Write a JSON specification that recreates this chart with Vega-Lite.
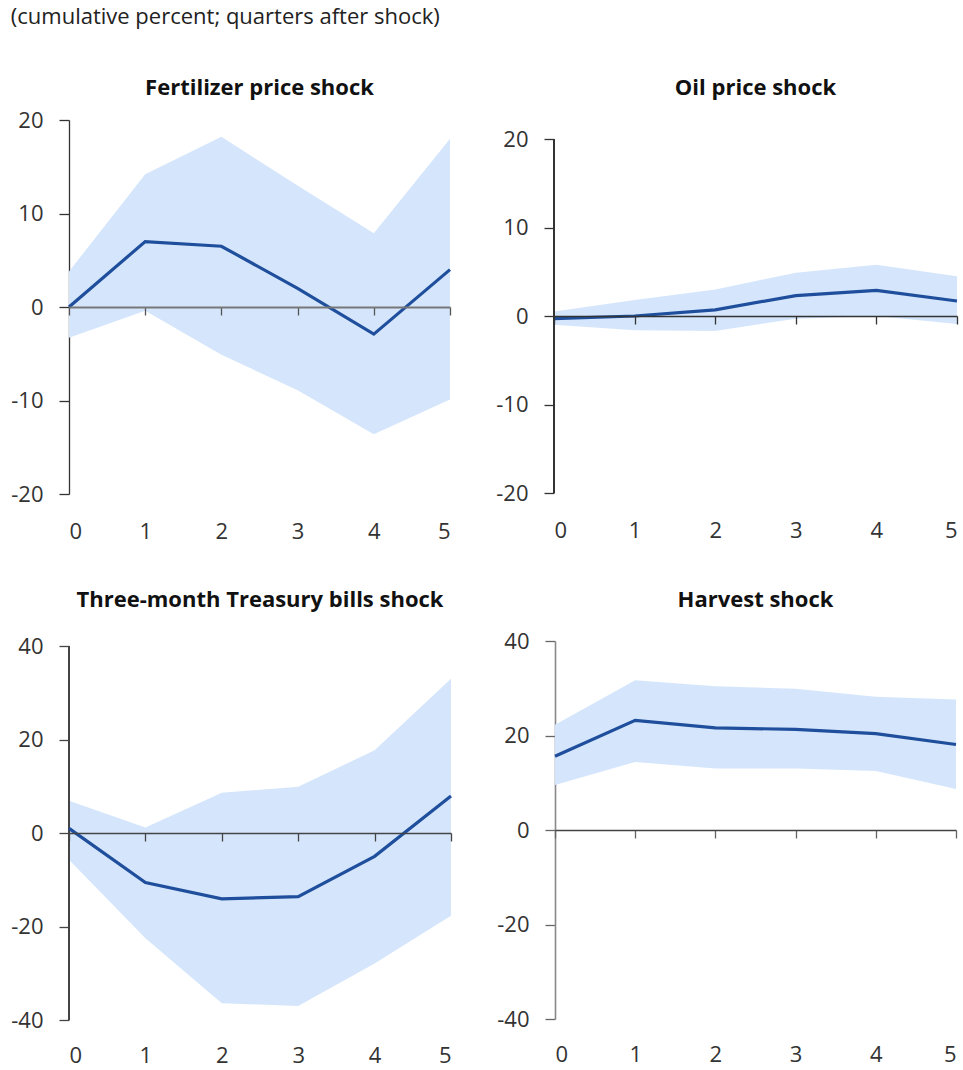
{
  "$schema": "https://vega.github.io/schema/vega-lite/v6.json",
  "background": "white",
  "padding": {"left": 10, "top": 6, "right": 0, "bottom": 0},
  "title": {"text": "(cumulative percent; quarters after shock)", "anchor": "start", "fontSize": 22, "fontWeight": "normal", "font": "Open Sans", "color": "#222222", "offset": 48},
  "config": {
    "view": {"stroke": null},
    "font": "Open Sans",
    "title": {"fontSize": 22, "fontWeight": "bold", "color": "#111111", "font": "Open Sans"},
    "axis": {"labelFont": "Open Sans", "labelFontSize": 22, "labelColor": "#333333", "grid": false, "title": null, "labelExpr": "datum.value < 0 ? '-' + abs(datum.value) : '' + datum.value"}
  },
  "datasets": {
    "d": [
      {"panel": "Fertilizer", "q": 0, "mid": 0.0, "lo": -3.3, "hi": 3.8},
      {"panel": "Fertilizer", "q": 1, "mid": 7.0, "lo": -0.4, "hi": 14.2},
      {"panel": "Fertilizer", "q": 2, "mid": 6.5, "lo": -5.1, "hi": 18.2},
      {"panel": "Fertilizer", "q": 3, "mid": 2.0, "lo": -8.9, "hi": 13.0},
      {"panel": "Fertilizer", "q": 4, "mid": -2.9, "lo": -13.6, "hi": 7.9},
      {"panel": "Fertilizer", "q": 5, "mid": 4.0, "lo": -9.9, "hi": 18.0},
      {"panel": "Oil", "q": 0, "mid": -0.3, "lo": -1.0, "hi": 0.5},
      {"panel": "Oil", "q": 1, "mid": 0.0, "lo": -1.6, "hi": 1.8},
      {"panel": "Oil", "q": 2, "mid": 0.7, "lo": -1.7, "hi": 3.0},
      {"panel": "Oil", "q": 3, "mid": 2.3, "lo": -0.3, "hi": 4.9},
      {"panel": "Oil", "q": 4, "mid": 2.9, "lo": 0.0, "hi": 5.8},
      {"panel": "Oil", "q": 5, "mid": 1.7, "lo": -0.9, "hi": 4.5},
      {"panel": "Treasury", "q": 0, "mid": 1.0, "lo": -5.7, "hi": 6.9},
      {"panel": "Treasury", "q": 1, "mid": -10.6, "lo": -22.5, "hi": 1.2},
      {"panel": "Treasury", "q": 2, "mid": -14.1, "lo": -36.4, "hi": 8.6},
      {"panel": "Treasury", "q": 3, "mid": -13.6, "lo": -37.0, "hi": 9.9},
      {"panel": "Treasury", "q": 4, "mid": -5.0, "lo": -27.9, "hi": 17.7},
      {"panel": "Treasury", "q": 5, "mid": 7.9, "lo": -17.7, "hi": 33.0},
      {"panel": "Harvest", "q": 0, "mid": 15.6, "lo": 9.5, "hi": 22.3},
      {"panel": "Harvest", "q": 1, "mid": 23.2, "lo": 14.4, "hi": 31.7},
      {"panel": "Harvest", "q": 2, "mid": 21.6, "lo": 13.0, "hi": 30.4},
      {"panel": "Harvest", "q": 3, "mid": 21.3, "lo": 13.0, "hi": 29.9},
      {"panel": "Harvest", "q": 4, "mid": 20.4, "lo": 12.5, "hi": 28.2},
      {"panel": "Harvest", "q": 5, "mid": 18.1, "lo": 8.7, "hi": 27.6}
    ]
  },
  "spacing": 47,
  "vconcat": [
    {
      "spacing": 38,
      "hconcat": [
        {
          "width": 381, "height": 374,
          "title": {"text": "Fertilizer price shock", "offset": 9},
          "data": {"name": "d"},
          "transform": [{"filter": "datum.panel == 'Fertilizer'"}],
          "encoding": {"x": {"field": "q", "type": "quantitative", "scale": {"domain": [0, 5], "nice": false}, "axis": {"values": [0,1,2,3,4,5], "offset": -187, "domainColor": "#777777", "domainWidth": 2, "tickColor": "#555555", "tickSize": 8, "tickWidth": 1.3, "labelPadding": 206, "zindex": 1}}},
          "layer": [
            {"mark": {"type": "area", "color": "#d5e6fc", "opacity": 1}, "encoding": {"y": {"field": "lo", "type": "quantitative", "scale": {"domain": [-20, 20], "nice": false}, "axis": {"values": [-20,-10,0,10,20], "domainColor": "#333333", "domainWidth": 1.3, "tickColor": "#333333", "tickSize": 10, "tickWidth": 1.3, "labelPadding": 16}}, "y2": {"field": "hi"}}},
            {"mark": {"type": "line", "color": "#1f4f9c", "strokeWidth": 3.2}, "encoding": {"y": {"field": "mid", "type": "quantitative"}}}
          ]
        },
        {
          "width": 403, "height": 373,
          "title": {"text": "Oil price shock", "offset": 20},
          "data": {"name": "d"},
          "transform": [{"filter": "datum.panel == 'Oil'"}],
          "encoding": {"x": {"field": "q", "type": "quantitative", "scale": {"domain": [0, 5], "nice": false}, "axis": {"values": [0,1,2,3,4,5], "offset": -177, "domainColor": "#333333", "domainWidth": 1.3, "tickColor": "#333333", "tickSize": 8, "tickWidth": 1.3, "labelPadding": 196, "zindex": 1}}},
          "layer": [
            {"mark": {"type": "area", "color": "#d5e6fc", "opacity": 1}, "encoding": {"y": {"field": "lo", "type": "quantitative", "scale": {"domain": [-20, 22.15], "nice": false}, "axis": {"values": [-20,-10,0,10,20], "domain": false, "tickColor": "#333333", "tickSize": 10, "tickWidth": 1.3, "labelPadding": 16}}, "y2": {"field": "hi"}}},
            {"mark": {"type": "rule", "color": "#333333", "strokeWidth": 1.3}, "encoding": {"x": {"datum": 0}, "y": {"datum": -20}, "y2": {"datum": 20}}},
            {"mark": {"type": "line", "color": "#1f4f9c", "strokeWidth": 3.2}, "encoding": {"y": {"field": "mid", "type": "quantitative"}}}
          ]
        }
      ]
    },
    {
      "spacing": 38,
      "hconcat": [
        {
          "width": 382, "height": 379,
          "title": {"text": "Three-month Treasury bills shock", "offset": 23},
          "data": {"name": "d"},
          "transform": [{"filter": "datum.panel == 'Treasury'"}],
          "encoding": {"x": {"field": "q", "type": "quantitative", "scale": {"domain": [0, 5], "nice": false}, "axis": {"values": [0,1,2,3,4,5], "offset": -187, "domainColor": "#444444", "domainWidth": 1.3, "tickColor": "#444444", "tickSize": 8, "tickWidth": 1.3, "labelPadding": 204, "zindex": 1}}},
          "layer": [
            {"mark": {"type": "area", "color": "#d5e6fc", "opacity": 1}, "encoding": {"y": {"field": "lo", "type": "quantitative", "scale": {"domain": [-40, 41.07], "nice": false}, "axis": {"values": [-40,-20,0,20,40], "domain": false, "tickColor": "#444444", "tickSize": 10, "tickWidth": 1.3, "labelPadding": 16}}, "y2": {"field": "hi"}}},
            {"mark": {"type": "rule", "color": "#444444", "strokeWidth": 1.3}, "encoding": {"x": {"datum": 0}, "y": {"datum": -40}, "y2": {"datum": 40}}},
            {"mark": {"type": "line", "color": "#1f4f9c", "strokeWidth": 3.2}, "encoding": {"y": {"field": "mid", "type": "quantitative"}}}
          ]
        },
        {
          "width": 401, "height": 378,
          "title": {"text": "Harvest shock", "offset": 18},
          "data": {"name": "d"},
          "transform": [{"filter": "datum.panel == 'Harvest'"}],
          "encoding": {"x": {"field": "q", "type": "quantitative", "scale": {"domain": [0, 5], "nice": false}, "axis": {"values": [0,1,2,3,4,5], "offset": -189, "domainColor": "#444444", "domainWidth": 1.5, "tickColor": "#666666", "tickSize": 8, "tickWidth": 1.3, "labelPadding": 206, "zindex": 1}}},
          "layer": [
            {"mark": {"type": "area", "color": "#d5e6fc", "opacity": 1}, "encoding": {"y": {"field": "lo", "type": "quantitative", "scale": {"domain": [-40, 40], "nice": false}, "axis": {"values": [-40,-20,0,20,40], "domainColor": "#888888", "domainWidth": 1.6, "tickColor": "#666666", "tickSize": 10, "tickWidth": 1.3, "labelPadding": 16}}, "y2": {"field": "hi"}}},
            {"mark": {"type": "line", "color": "#1f4f9c", "strokeWidth": 3.2}, "encoding": {"y": {"field": "mid", "type": "quantitative"}}}
          ]
        }
      ]
    }
  ]
}
